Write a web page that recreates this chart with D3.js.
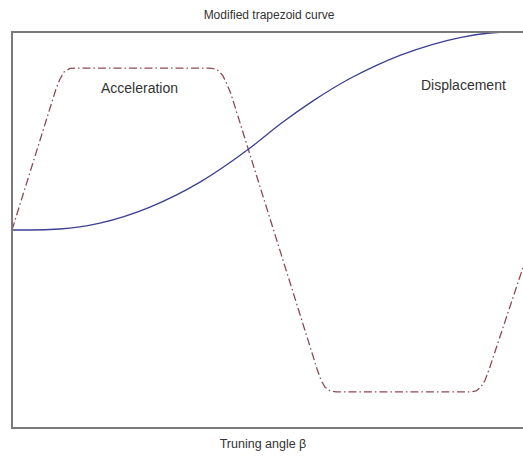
<!DOCTYPE html>
<html>
<head>
<meta charset="utf-8">
<script src="https://cdn.jsdelivr.net/npm/d3@7"></script>
<style>
  html, body { margin: 0; padding: 0; background: #fff; }
  svg { display: block; }
  text { font-family: "Liberation Sans", Arial, sans-serif; fill: #333; }
</style>
</head>
<body>
<div id="chart"></div>
<script>
// ---- data ----
const chartTitle = "Modified trapezoid curve";
const xAxisLabel = "Truning angle β";
const seriesNames = ["Acceleration", "Displacement"];

// Displacement (normalised) vs turning angle (deg)
const dispAngle = [0, 12.5, 33.3, 61.0, 95.7, 130.4, 165.1, 187.0, 208.8, 234.4, 253.2, 269.1, 292.0, 310.7, 331.5, 345, 360];
const dispValue = [0, 0, 0.005, 0.035, 0.116, 0.242, 0.414, 0.540, 0.652, 0.765, 0.833, 0.882, 0.938, 0.972, 0.995, 1.0, 1.0];

// Acceleration (normalised) vs turning angle (deg)
const accAngle = [0, 30.5, 33.3, 36.1, 40.2, 44.4, 136.0, 140.1, 143.6, 146.3, 149.1, 151.9, 211.6, 214.3, 217.1, 220.6, 224.7, 317.7, 321.9, 325.3, 328.2, 330.9, 360];
const accValue = [0, 0.712, 0.763, 0.798, 0.816, 0.818, 0.818, 0.815, 0.803, 0.778, 0.737, 0.687, -0.702, -0.758, -0.793, -0.813, -0.818, -0.818, -0.813, -0.793, -0.758, -0.705, -0.068];

// ---- drawing ----
const W = 523, H = 456;
const plot = { left: 12, right: 531, top: 32, bottom: 428 };

const svg = d3.select("#chart").append("svg").attr("width", W).attr("height", H);

const x = d3.scaleLinear().domain([0, 360]).range([plot.left, plot.right]);
const y = d3.scaleLinear().domain([-1, 1]).range([plot.bottom, plot.top]);

svg.append("defs").append("clipPath").attr("id", "clip")
  .append("rect")
  .attr("x", plot.left).attr("y", plot.top - 1)
  .attr("width", plot.right - plot.left).attr("height", plot.bottom - plot.top + 2);

const g = svg.append("g").attr("clip-path", "url(#clip)");

const accData = accAngle.map((a, i) => [a, accValue[i]]);
const dispData = dispAngle.map((a, i) => [a, dispValue[i]]);

g.append("path")
  .datum(accData)
  .attr("fill", "none")
  .attr("stroke", "#8e4a56")
  .attr("stroke-width", 1.3)
  .attr("stroke-dasharray", "8,3,1.5,3")
  .attr("d", d3.line().x(d => x(d[0])).y(d => y(d[1])).curve(d3.curveLinear));

g.append("path")
  .datum(dispData)
  .attr("fill", "none")
  .attr("stroke", "#3c408f")
  .attr("stroke-width", 1.3)
  .attr("d", d3.line().x(d => x(d[0])).y(d => y(d[1])).curve(d3.curveMonotoneX));

// frame
svg.append("rect")
  .attr("x", plot.left).attr("y", plot.top)
  .attr("width", plot.right - plot.left).attr("height", plot.bottom - plot.top)
  .attr("fill", "none").attr("stroke", "#7a7a7a").attr("stroke-width", 2);

// title & label
svg.append("text").attr("x", 269).attr("y", 19).attr("text-anchor", "middle")
  .style("font-size", "12px").text(chartTitle);
svg.append("text").attr("x", 263).attr("y", 448).attr("text-anchor", "middle")
  .style("font-size", "12.5px").text(xAxisLabel);

// annotations
svg.append("text").attr("x", 101).attr("y", 93).style("font-size", "14px").text(seriesNames[0]);
svg.append("text").attr("x", 421).attr("y", 90).style("font-size", "14px").text(seriesNames[1]);
</script>
</body>
</html>
